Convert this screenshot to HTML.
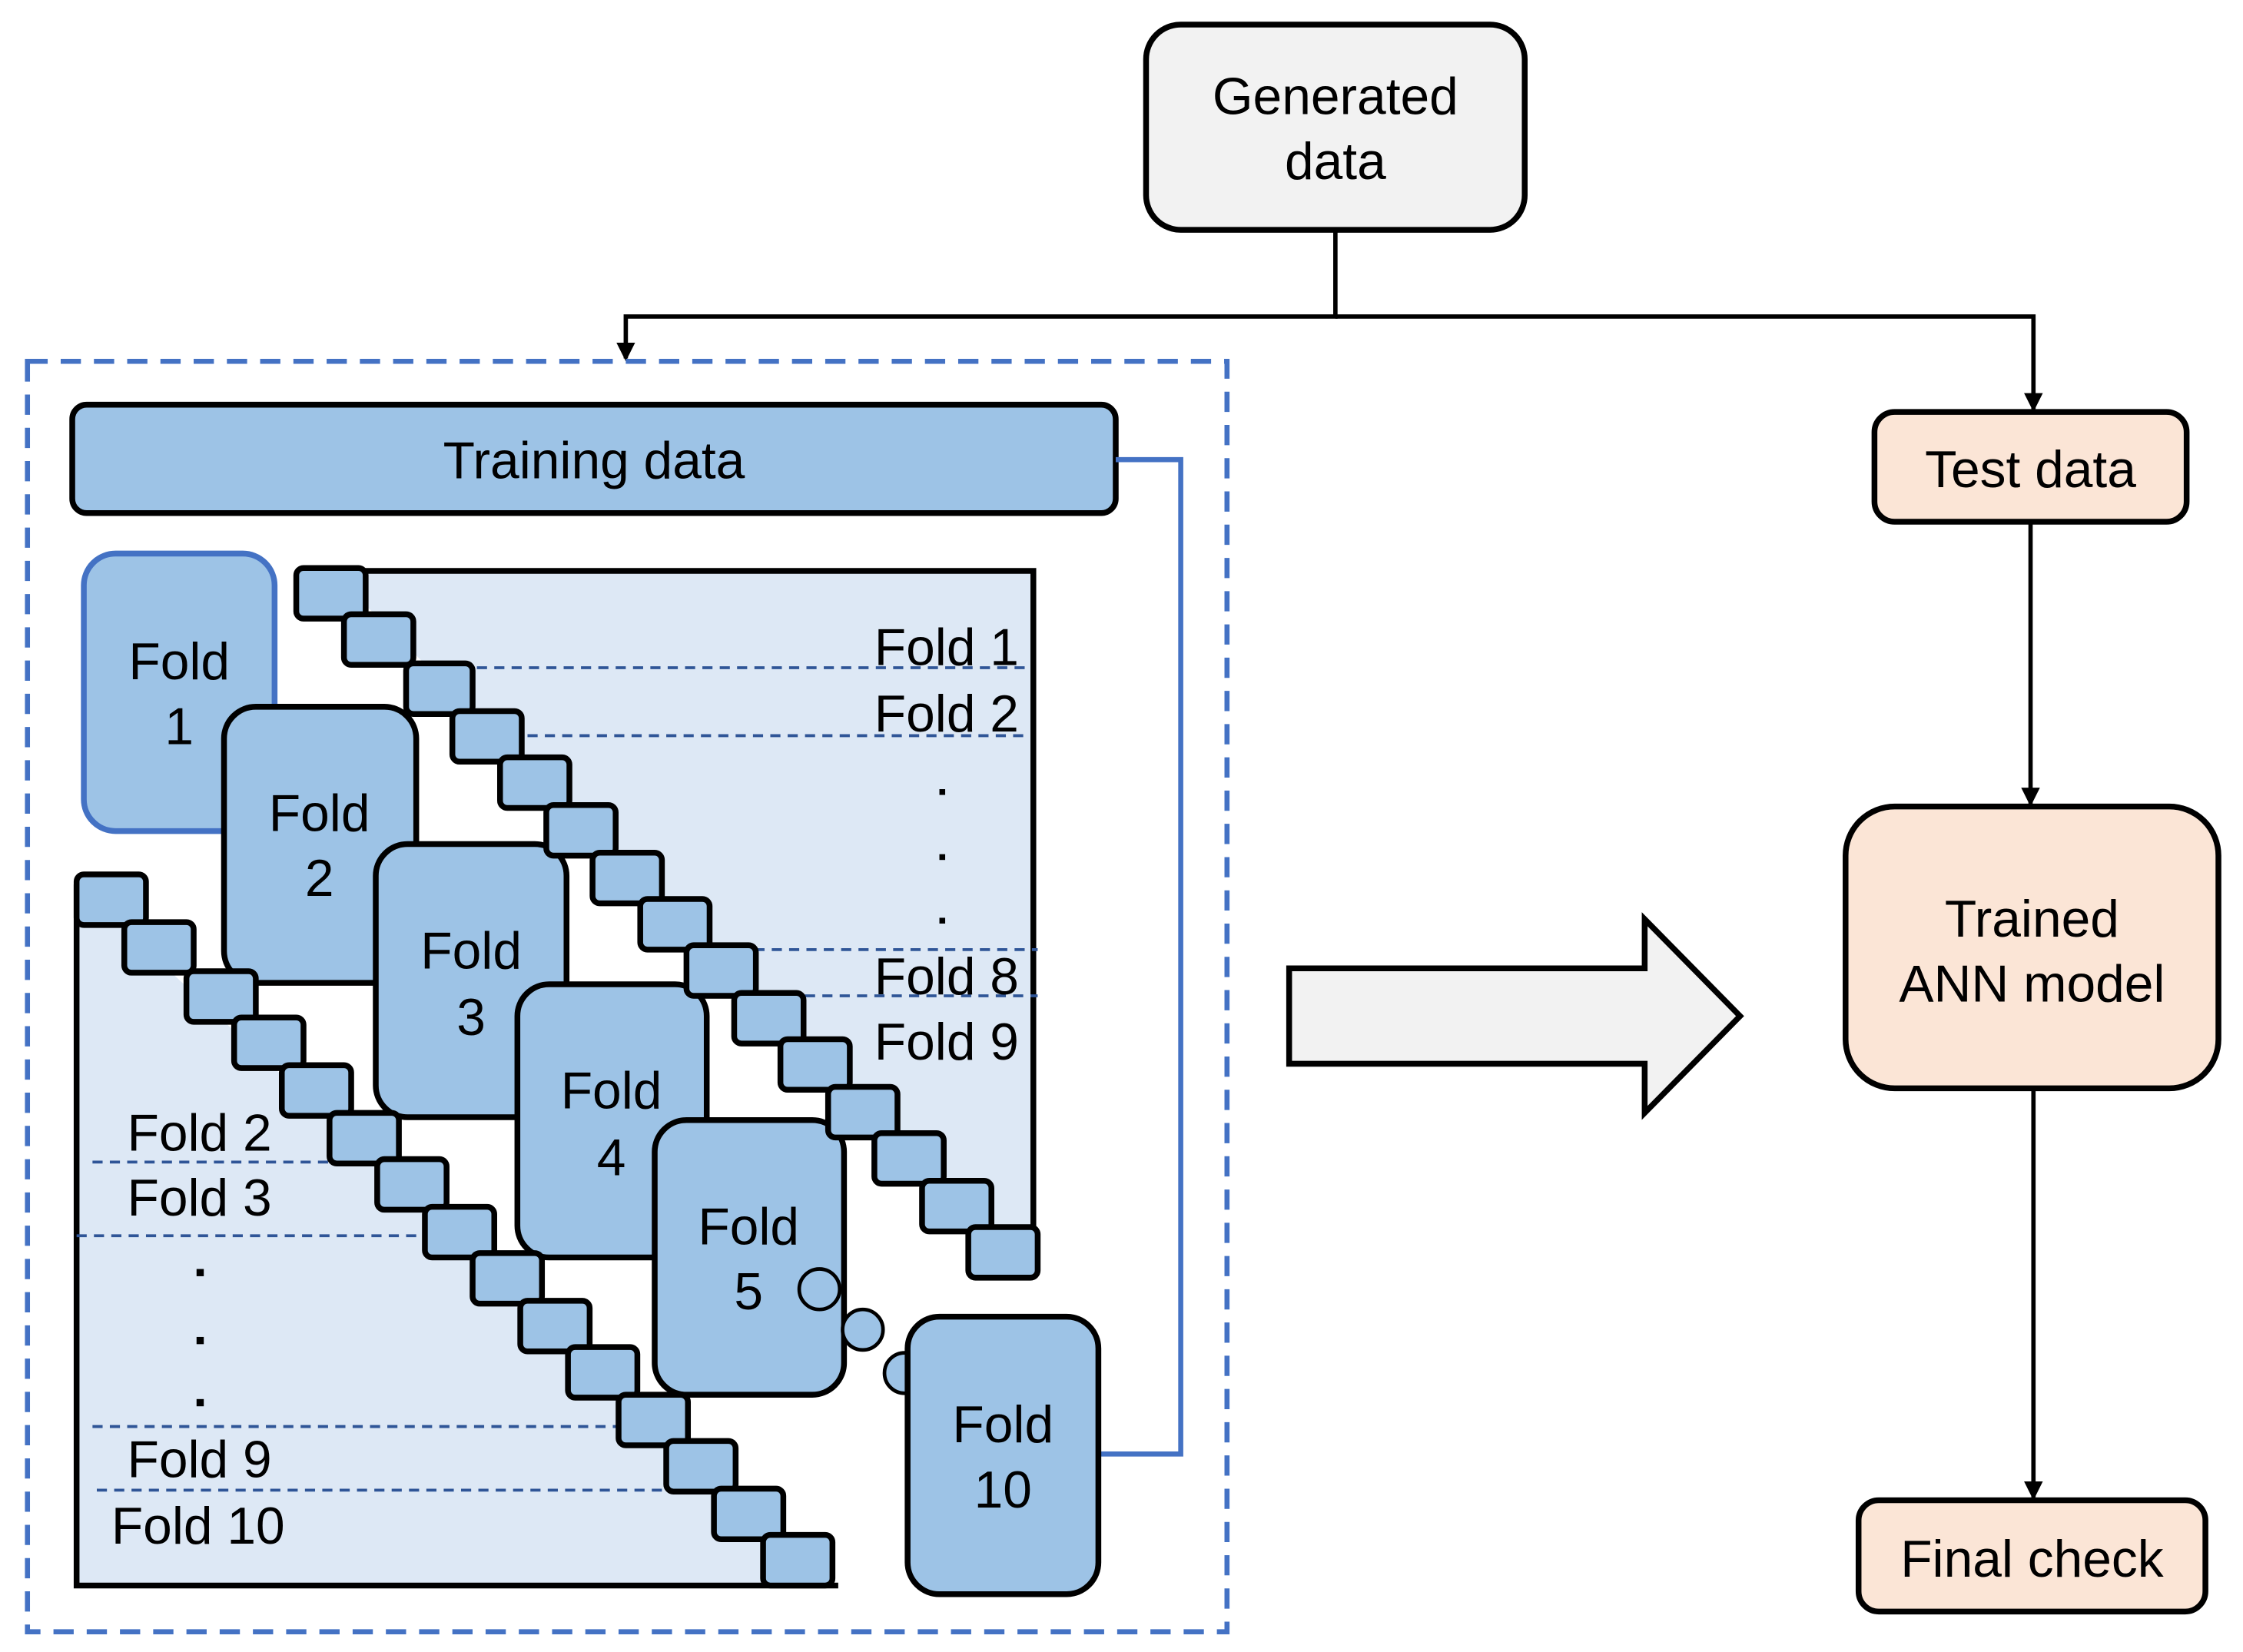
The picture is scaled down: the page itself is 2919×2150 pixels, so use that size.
<!DOCTYPE html>
<html><head><meta charset="utf-8"><style>
html,body{margin:0;padding:0;background:#fff;}
svg{display:block;}
text{font-family:"Liberation Sans",Arial,sans-serif;fill:#000;}
</style></head><body>
<svg width="2919" height="2150" viewBox="0 0 1552 1143" preserveAspectRatio="none" xmlns="http://www.w3.org/2000/svg">
<defs>
<marker id="ah" markerWidth="13" markerHeight="13" refX="11" refY="6.5" orient="auto" markerUnits="userSpaceOnUse"><path d="M0,0 L13,6.5 L0,13 z" fill="#000"/></marker>
</defs>
<rect x="793" y="17" width="262" height="142" rx="24" fill="#f2f2f2" stroke="#000" stroke-width="4"/>
<text x="924" y="79" font-size="36" text-anchor="middle">Generated</text>
<text x="924" y="124" font-size="36" text-anchor="middle">data</text>
<path d="M924,159 V219 H433 V248" fill="none" stroke="#000" stroke-width="3" marker-end="url(#ah)"/>
<path d="M924,219 H1407 V283" fill="none" stroke="#000" stroke-width="3" marker-end="url(#ah)"/>
<rect x="1297" y="285" width="216" height="76" rx="14" fill="#fbe5d6" stroke="#000" stroke-width="4"/>
<text x="1405" y="337" font-size="36" text-anchor="middle">Test data</text>
<path d="M1405,361 V556" fill="none" stroke="#000" stroke-width="3" marker-end="url(#ah)"/>
<rect x="1277" y="558" width="258" height="195" rx="34" fill="#fbe5d6" stroke="#000" stroke-width="4"/>
<text x="1406" y="648" font-size="36" text-anchor="middle">Trained</text>
<text x="1406" y="693" font-size="36" text-anchor="middle">ANN model</text>
<path d="M1407,753 V1036" fill="none" stroke="#000" stroke-width="3" marker-end="url(#ah)"/>
<rect x="1286" y="1038" width="240" height="77" rx="14" fill="#fbe5d6" stroke="#000" stroke-width="4"/>
<text x="1406" y="1091" font-size="36" text-anchor="middle">Final check</text>
<polygon points="892,670 1138,670 1138,636 1204,703 1138,770 1138,736 892,736" fill="#f2f2f2" stroke="#000" stroke-width="4"/>
<rect x="19" y="250" width="830" height="879" fill="none" stroke="#4472c4" stroke-width="3.5" stroke-dasharray="14,9"/>
<rect x="50" y="280" width="722" height="75" rx="10" fill="#9dc3e6" stroke="#000" stroke-width="4"/>
<text x="411" y="331" font-size="36" text-anchor="middle">Training data</text>
<path d="M772,318 H817 V1006 H760" fill="none" stroke="#4472c4" stroke-width="3.5"/>
<path d="M205,395 H715 V852 L690,852 L229,395 Z" fill="#dde8f5"/>
<path d="M205,395 H715 V852" fill="none" stroke="#000" stroke-width="4"/>
<path d="M53,612 L575,1097 H53 Z" fill="#dde8f5"/>
<path d="M53,612 V1097 H580" fill="none" stroke="#000" stroke-width="4"/>
<g stroke="#2f5597" stroke-width="2" stroke-dasharray="7,5">
<line x1="330" y1="462" x2="712" y2="462"/>
<line x1="365" y1="509" x2="712" y2="509"/>
<line x1="522" y1="657" x2="718" y2="657"/>
<line x1="557" y1="689" x2="718" y2="689"/>
<line x1="64" y1="804" x2="228" y2="804"/>
<line x1="53" y1="855" x2="292" y2="855"/>
<line x1="64" y1="987" x2="427" y2="987"/>
<line x1="67" y1="1031" x2="460" y2="1031"/>
</g>
<g font-size="36" text-anchor="end">
<text x="705" y="460">Fold 1</text>
<text x="705" y="506">Fold 2</text>
<text x="705" y="688">Fold 8</text>
<text x="705" y="733">Fold 9</text>
</g>
<g font-size="36">
<text x="88" y="796">Fold 2</text>
<text x="88" y="841">Fold 3</text>
<text x="88" y="1022">Fold 9</text>
<text x="77" y="1068">Fold 10</text>
</g>
<g fill="#000">
<rect x="650" y="546" width="4" height="4"/><rect x="650" y="591" width="4" height="4"/><rect x="650" y="635" width="4" height="4"/>
<rect x="136" y="878" width="5" height="5"/><rect x="136" y="925" width="5" height="5"/><rect x="136" y="968" width="5" height="5"/>
</g>
<g font-size="36" text-anchor="middle">
<rect x="58" y="383" width="132" height="192" rx="22" fill="#9dc3e6" stroke="#4472c4" stroke-width="4"/>
<text x="124" y="470">Fold</text><text x="124" y="515">1</text>
<rect x="155" y="489" width="133" height="191" rx="22" fill="#9dc3e6" stroke="#000" stroke-width="4"/>
<text x="221" y="575">Fold</text><text x="221" y="620">2</text>
<rect x="260" y="584" width="132" height="189" rx="22" fill="#9dc3e6" stroke="#000" stroke-width="4"/>
<text x="326" y="670">Fold</text><text x="326" y="716">3</text>
<rect x="358" y="681" width="131" height="189" rx="22" fill="#9dc3e6" stroke="#000" stroke-width="4"/>
<text x="423" y="767">Fold</text><text x="423" y="813">4</text>
<rect x="453" y="775" width="131" height="190" rx="22" fill="#9dc3e6" stroke="#000" stroke-width="4"/>
<text x="518" y="861">Fold</text><text x="518" y="906">5</text>
<circle cx="567" cy="892" r="14" fill="#9dc3e6" stroke="#000" stroke-width="2.5"/>
<circle cx="597" cy="920" r="14" fill="#9dc3e6" stroke="#000" stroke-width="2.5"/>
<circle cx="626" cy="950" r="14" fill="#9dc3e6" stroke="#000" stroke-width="2.5"/>
<rect x="628" y="911" width="132" height="192" rx="22" fill="#9dc3e6" stroke="#000" stroke-width="4"/>
<text x="694" y="998">Fold</text><text x="694" y="1043">10</text>
</g>
<g fill="#9dc3e6" stroke="#000" stroke-width="4">
<rect x="205" y="393" width="48" height="35" rx="5"/>
<rect x="238" y="425" width="48" height="35" rx="5"/>
<rect x="281" y="459" width="46" height="35" rx="5"/>
<rect x="313" y="492" width="48" height="35" rx="5"/>
<rect x="346" y="524" width="48" height="35" rx="5"/>
<rect x="378" y="557" width="48" height="35" rx="5"/>
<rect x="410" y="590" width="48" height="35" rx="5"/>
<rect x="443" y="622" width="48" height="35" rx="5"/>
<rect x="475" y="654" width="48" height="35" rx="5"/>
<rect x="508" y="687" width="48" height="35" rx="5"/>
<rect x="540" y="719" width="48" height="35" rx="5"/>
<rect x="573" y="752" width="48" height="35" rx="5"/>
<rect x="605" y="784" width="48" height="35" rx="5"/>
<rect x="638" y="817" width="48" height="35" rx="5"/>
<rect x="670" y="849" width="48" height="35" rx="5"/>
<rect x="53" y="605" width="48" height="35" rx="5"/>
<rect x="86" y="638" width="48" height="35" rx="5"/>
<rect x="129" y="672" width="48" height="35" rx="5"/>
<rect x="162" y="704" width="48" height="35" rx="5"/>
<rect x="195" y="737" width="48" height="35" rx="5"/>
<rect x="228" y="770" width="48" height="35" rx="5"/>
<rect x="261" y="802" width="48" height="35" rx="5"/>
<rect x="294" y="835" width="48" height="35" rx="5"/>
<rect x="327" y="867" width="48" height="35" rx="5"/>
<rect x="360" y="900" width="48" height="35" rx="5"/>
<rect x="393" y="932" width="48" height="35" rx="5"/>
<rect x="428" y="965" width="48" height="35" rx="5"/>
<rect x="461" y="997" width="48" height="35" rx="5"/>
<rect x="494" y="1030" width="48" height="35" rx="5"/>
<rect x="528" y="1062" width="48" height="35" rx="5"/>
</g>
</svg>
</body></html>
